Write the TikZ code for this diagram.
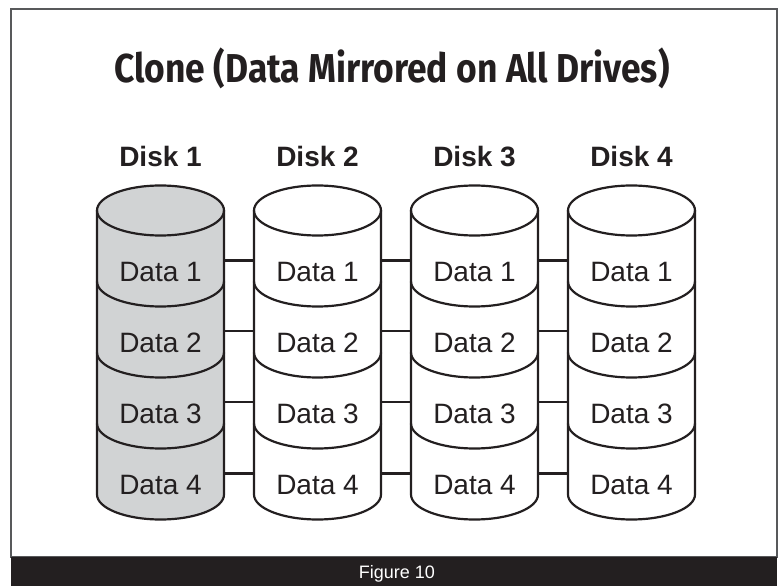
\documentclass[tikz,border=0pt]{standalone}
\usepackage{fontspec}
\setmainfont{Liberation Sans}
\newfontfamily\titlefont{Fira Sans}
\definecolor{ink}{HTML}{231F20}
\definecolor{diskgray}{HTML}{D1D3D4}
\definecolor{framegray}{HTML}{58595B}
\tikzset{
	title/.style={font=\titlefont\bfseries\fontsize{36}{40}\selectfont,text=ink,anchor=base},
	disklabel/.style={font=\bfseries\fontsize{28}{30}\selectfont,text=ink,anchor=base},
	datalabel/.style={font=\fontsize{28}{30}\selectfont,text=ink,anchor=base,minimum width=127pt,inner xsep=0pt},
	caption/.style={font=\fontsize{18}{20}\selectfont,text=white,anchor=base},
	link/.style={draw=ink,line width=2.2pt},
	pics/disk/.style={code={
		\fill[#1] (-63.5,0) -- (-63.5,-284) arc[start angle=180,end angle=360,x radius=63.5pt,y radius=25pt] -- (63.5,0) arc[start angle=0,end angle=180,x radius=63.5pt,y radius=25pt] -- cycle;
		\draw[ink,line width=2.2pt,line join=round] (-63.5,0) -- (-63.5,-284) arc[start angle=180,end angle=360,x radius=63.5pt,y radius=25pt] -- (63.5,0);
		\draw[ink,line width=2.2pt] (0,0) ellipse[x radius=63.5pt,y radius=25pt]; % lid
		\draw[ink,line width=2.2pt] (-63.5,-71) arc[start angle=180,end angle=360,x radius=63.5pt,y radius=25pt];
		\draw[ink,line width=2.2pt] (-63.5,-142) arc[start angle=180,end angle=360,x radius=63.5pt,y radius=25pt];
		\draw[ink,line width=2.2pt] (-63.5,-213) arc[start angle=180,end angle=360,x radius=63.5pt,y radius=25pt];
	}}
}

\begin{document}
\begin{tikzpicture}[x=1pt,y=1pt]
	\useasboundingbox (0,0) rectangle (781,586);
	\draw[framegray,line width=1.2pt] (11,29) rectangle (777,577);
	\fill[ink] (11,0) rectangle (777,29); % footer bar
	\node[caption] (fig) at (397,8) {Figure 10};

	\node[title] (title) at (392,503) {\resizebox{555pt}{1.12\height}{Clone (Data Mirrored on All Drives)}};

	\pic at (160.5,375.5) {disk=diskgray};
	\pic at (317.5,375.5) {disk=white};
	\pic at (474.5,375.5) {disk=white};
	\pic at (631.5,375.5) {disk=white};

	\foreach \i/\x in {1/160.5,2/317.5,3/474.5,4/631.5}{
		\node[disklabel] (disk\i) at (\x,419) {Disk \i};
		\foreach \k in {1,...,4}
			\node[datalabel] (d\i r\k) at (\x,{304-71*(\k-1)}) {Data \k};
	}

	% mirror links
	\foreach \i/\j in {1/2,2/3,3/4}
		\foreach \k in {1,...,4}
			\draw[link] ([yshift=12pt]d\i r\k.east) -- ([yshift=12pt]d\j r\k.west);
\end{tikzpicture}
\end{document}
